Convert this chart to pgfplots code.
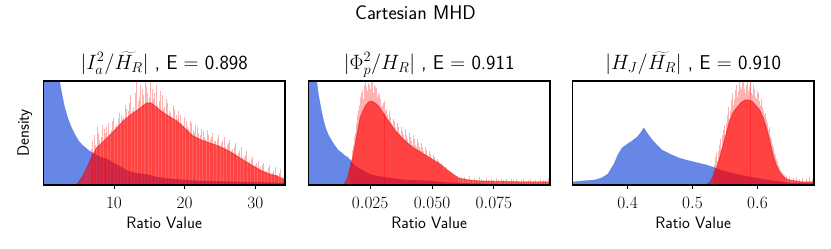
\documentclass[border=0pt]{standalone}
\usepackage{pgfplots}
\pgfplotsset{compat=1.18}
\definecolor{bluecol}{RGB}{65,105,225}
\definecolor{redcol}{RGB}{255,0,0}
\newcommand{\lblfont}{\fontsize{16.5}{19}\selectfont}
\newcommand{\ttlfont}{\fontsize{20}{22}\selectfont}
\pgfplotsset{
  panel/.style={
    anchor=south west, scale only axis, width=241.7pt, height=104pt,
    ymin=0, ymax=104, ytick=\empty, scaled x ticks=false,
    tick align=outside, xtick pos=lower, major tick length=4.5pt,
    axis line style={line width=1.1pt, black},
    every tick/.style={black, line width=0.9pt},
    tick label style={font=\lblfont},
    xticklabel style={yshift=-4pt},
    label style={font=\lblfont\sffamily},
    xlabel style={at={(axis description cs:0.5,0)}, anchor=base, yshift=-43.3pt},
    every axis title/.style={at={(axis description cs:0.5,1)}, anchor=base, yshift=11.7pt, font=\ttlfont\sffamily},
    axis on top,
  },
  bluefill/.style={fill=bluecol, fill opacity=0.8, draw=bluecol, draw opacity=0.5, line width=0.6pt},
  redfill/.style={fill=redcol, fill opacity=0.63, draw=redcol!80!black, draw opacity=0.35, line width=1pt},
  spikes/.style={ycomb, draw=redcol, draw opacity=0.3, line width=1pt, mark=none},
}
\begin{document}
\begin{tikzpicture}[x=1pt,y=1pt]
\useasboundingbox (0,0) rectangle (831,249);
\node[anchor=base, font={\fontsize{19.8}{22}\selectfont\sffamily}] at (415.5,229.7) {Cartesian MHD};

% ---------------- Panel 1 ----------------
\begin{axis}[panel, at={(43.3pt,64pt)}, xmin=0, xmax=34.2, xtick={10,20,30},
  xlabel={Ratio Value}, ylabel={Density},
  ylabel style={at={(axis description cs:-0.06,0.5)}, anchor=base},
  title={$|I_a^2/\widetilde{H_R}|$ , E $=$ 0.898}]
\addplot[bluefill] coordinates {
(0,300) (1,200) (1.8,130) (2.3,104) (2.6,92) (3.0,78) (3.5,66) (4.0,57) (4.5,50) (5.0,44)
(5.5,40) (6.0,37) (6.5,34) (7.0,32) (7.5,30) (8,28) (9,26) (10,22) (11,18) (12,14)
(13,12) (14,11) (15,10) (16,8) (17,7) (18,6) (20,5) (22,4) (25,3.5) (28,3) (31,2.5) (34.2,2)
} \closedcycle;
\addplot[spikes] coordinates {
(6.8,36) (7.2,50) (7.6,58) (8.0,45) (8.4,60) (8.8,52) (9.2,62) (9.6,55) (10.0,68) (10.4,60) (10.8,72)
(11.2,66) (11.6,80) (12.0,74) (12.4,90) (12.8,78) (13.2,104) (13.6,88) (14.0,96) (14.4,104) (14.8,92)
(15.2,104) (15.6,86) (16.0,100) (16.4,84) (16.8,90) (17.2,78) (17.6,82) (18.0,72) (18.4,80) (18.8,70)
(19.2,74) (19.6,62) (20.0,68) (20.4,58) (20.8,64) (21.2,55) (21.6,60) (22.0,52) (22.4,56) (22.8,48)
(23.2,55) (23.6,46) (24.0,52) (24.4,44) (24.8,50) (25.2,42) (25.6,48) (26.0,40) (26.4,45) (26.8,36)
(27.2,42) (27.6,32) (28.0,38) (28.4,28) (28.8,34) (29.2,24) (29.6,28) (30.0,20) (30.4,24) (30.8,18)
(31.2,22) (31.6,14) (32.0,20) (32.4,12) (32.8,18) (33.2,10) (33.6,16) (34.0,8)
};
\addplot[spikes] coordinates {
(7.0,44) (7.4,40) (7.8,52) (8.2,48) (8.6,56) (9.0,58) (9.4,50) (9.8,64) (10.2,58) (10.6,66)
(11.0,70) (11.4,68) (11.8,76) (12.2,82) (12.6,74) (13.0,92) (13.4,84) (13.8,100) (14.2,90) (14.6,98)
(15.0,88) (15.4,96) (15.8,92) (16.2,80) (16.6,94) (17.0,76) (17.4,86) (17.8,74) (18.2,68) (18.6,76)
(19.0,66) (19.4,70) (19.8,60) (20.2,64) (20.6,56) (21.0,62) (21.4,52) (21.8,58) (22.2,50) (22.6,54)
(23.0,46) (23.4,50) (23.8,48) (24.2,44) (24.6,46) (25.0,40) (25.4,44) (25.8,38) (26.2,42) (26.6,34)
(27.0,38) (27.4,30) (27.8,34) (28.2,27) (28.6,30) (29.0,22) (29.4,26) (29.8,19) (30.2,22) (30.6,16)
(31.0,20) (31.4,13) (31.8,17) (32.2,11) (32.6,14) (33.0,10) (33.4,12) (33.8,7)
};
\addplot[redfill] coordinates {
(4.7,0) (5.2,5) (5.6,9) (6.0,15) (6.6,24) (7.5,37) (9.0,47) (10,54) (11.3,64) (12.5,71)
(13.7,77) (14.6,82) (15.3,82) (16.5,75) (17.5,70) (18.9,64) (20,57) (21.2,49) (22.4,45) (23.6,42)
(24.8,39) (26,35) (27,31) (28.3,25) (29.5,20) (30.7,15) (32,11) (33.1,9) (34.2,5)
} \closedcycle;
\end{axis}

% ---------------- Panel 2 ----------------
\begin{axis}[panel, at={(308.3pt,64pt)}, xmin=0, xmax=0.0977, xtick={0.025,0.05,0.075},
  xticklabels={$0.025$,$0.050$,$0.075$},
  xlabel={Ratio Value},
  title={$|\Phi_p^2/H_R|$ , E $=$ 0.911}]
\addplot[bluefill] coordinates {
(0.0,300) (0.002,150) (0.0034,104) (0.004,92) (0.0047,82) (0.0054,73) (0.0061,65) (0.007,57) (0.0081,50) (0.0095,44)
(0.0108,39) (0.012,35) (0.0135,32) (0.015,29) (0.0162,27) (0.0175,23) (0.0189,19) (0.021,16) (0.023,13) (0.0257,10)
(0.029,8.5) (0.0324,7) (0.0392,5) (0.049,4) (0.055,2.5) (0.06,1.8) (0.07,1.2) (0.08,0.8) (0.0977,0.5)
} \closedcycle;
\addplot[spikes] coordinates {
(0.0170,22) (0.0178,35) (0.0186,48) (0.0194,62) (0.0202,75) (0.0210,88) (0.0218,95) (0.0226,100) (0.0234,98) (0.0242,102)
(0.0250,96) (0.0258,104) (0.0266,100) (0.0274,97) (0.0282,92) (0.0290,86) (0.0298,80) (0.0306,84) (0.0314,74) (0.0322,70)
(0.0330,74) (0.0338,62) (0.0346,66) (0.0354,58) (0.0362,62) (0.0370,52) (0.0378,58) (0.0386,50) (0.0394,56) (0.0402,46)
(0.0410,52) (0.0418,44) (0.0426,50) (0.0434,40) (0.0442,46) (0.0450,38) (0.0458,42) (0.0466,34) (0.0474,38) (0.0482,30)
(0.0490,34) (0.0498,27) (0.0506,30) (0.0514,24) (0.0522,26) (0.0530,21) (0.0538,22) (0.0546,17) (0.0554,18) (0.0562,14)
(0.0570,14) (0.0578,11) (0.0586,10) (0.0594,8) (0.0602,9) (0.0610,7) (0.0620,6) (0.0630,8) (0.0640,6) (0.0650,9)
(0.0660,5) (0.0670,7) (0.0680,5) (0.0690,8) (0.0700,6) (0.0710,5) (0.0720,7) (0.0730,5) (0.0740,6) (0.0750,5)
(0.0760,7) (0.0770,5) (0.0780,6) (0.0790,5) (0.0800,6) (0.0810,4) (0.0820,6) (0.0830,5) (0.0840,6) (0.0850,4)
(0.0860,5) (0.0870,6) (0.0880,4) (0.0890,5) (0.0900,6) (0.0910,4) (0.0920,5) (0.0930,4) (0.0940,6) (0.0950,5)
(0.0960,4) (0.0970,7)
};
\addplot[spikes] coordinates {
(0.0174,26) (0.0182,40) (0.0190,52) (0.0198,70) (0.0206,80) (0.0214,92) (0.0222,86) (0.0230,104) (0.0238,94) (0.0246,100)
(0.0254,104) (0.0262,92) (0.0270,98) (0.0278,88) (0.0286,90) (0.0294,78) (0.0302,82) (0.0310,72) (0.0318,76) (0.0326,66)
(0.0334,68) (0.0342,60) (0.0350,64) (0.0358,54) (0.0366,58) (0.0374,50) (0.0382,54) (0.0390,46) (0.0398,50) (0.0406,42)
(0.0414,48) (0.0422,40) (0.0430,46) (0.0438,38) (0.0446,42) (0.0454,35) (0.0462,38) (0.0470,31) (0.0478,35) (0.0486,28)
(0.0494,31) (0.0502,25) (0.0510,28) (0.0518,22) (0.0526,24) (0.0534,19) (0.0542,20) (0.0550,15) (0.0558,16) (0.0566,12)
(0.0574,12) (0.0582,9) (0.0590,9) (0.0598,7)
};
\addplot[redfill] coordinates {
(0.0142,0) (0.0155,5) (0.0169,17) (0.018,28) (0.0189,40) (0.0199,54) (0.0209,67) (0.022,74) (0.023,79) (0.0243,83)
(0.0257,84) (0.027,82) (0.0284,79) (0.030,73) (0.0324,64) (0.035,55) (0.0375,48) (0.0392,44) (0.042,38) (0.046,32)
(0.0493,27) (0.0527,22) (0.0568,14) (0.0608,7) (0.0649,5) (0.07,4) (0.08,3.5) (0.09,3) (0.0977,3)
} \closedcycle;
\end{axis}

% ---------------- Panel 3 ----------------
\begin{axis}[panel, at={(572.3pt,64pt)}, xmin=0.315, xmax=0.687, xtick={0.4,0.5,0.6},
  xticklabels={$0.4$,$0.5$,$0.6$},
  xlabel={Ratio Value},
  title={$|H_J/\widetilde{H_R}|$ , E $=$ 0.910}]
\addplot[bluefill] coordinates {
(0.315,3) (0.33,4) (0.35,5) (0.36,7) (0.37,11) (0.38,22) (0.385,30) (0.3917,37) (0.40,41) (0.407,44)
(0.415,48) (0.42,52) (0.425,57) (0.43,52) (0.438,45) (0.445,40) (0.453,35) (0.465,31) (0.479,27) (0.49,25)
(0.502,23) (0.5215,20) (0.535,17) (0.547,14) (0.56,12) (0.573,10) (0.585,8.5) (0.598,7) (0.61,5.5) (0.624,4)
(0.65,2) (0.687,1.5)
} \closedcycle;
\addplot[spikes] coordinates {
(0.532,15) (0.536,28) (0.539,24) (0.542,40) (0.545,36) (0.548,55) (0.551,50) (0.554,70) (0.557,66) (0.560,85)
(0.563,80) (0.566,95) (0.569,88) (0.572,104) (0.575,96) (0.578,104) (0.581,92) (0.584,104) (0.587,98) (0.590,104)
(0.593,90) (0.596,96) (0.599,86) (0.602,92) (0.605,80) (0.608,78) (0.611,70) (0.614,66) (0.617,55) (0.620,48)
(0.623,40) (0.626,32) (0.629,26) (0.632,20) (0.635,15) (0.638,12) (0.641,10) (0.645,9) (0.650,8) (0.655,7)
(0.660,8) (0.665,6) (0.670,7) (0.675,6) (0.680,8) (0.685,6)
};
\addplot[spikes] coordinates {
(0.5335,20) (0.5375,32) (0.5405,34) (0.5435,46) (0.5465,50) (0.5495,60) (0.5525,62) (0.5555,78) (0.5585,74) (0.5615,92)
(0.5645,86) (0.5675,100) (0.5705,94) (0.5735,98) (0.5765,104) (0.5795,96) (0.5825,100) (0.5855,94) (0.5885,104) (0.5915,92)
(0.5945,100) (0.5975,88) (0.6005,94) (0.6035,84) (0.6065,86) (0.6095,74) (0.6125,72) (0.6155,62) (0.6185,58) (0.6215,46)
(0.6245,38) (0.6275,30) (0.6305,24) (0.6335,18) (0.6365,14) (0.6395,11)
};
\addplot[redfill] coordinates {
(0.52,0) (0.527,3) (0.532,9) (0.537,17) (0.542,28) (0.547,40) (0.552,52) (0.557,64) (0.562,72) (0.5677,77)
(0.574,82) (0.5805,85) (0.586,85) (0.591,84) (0.597,80) (0.6035,75) (0.609,67) (0.614,57) (0.618,47) (0.6215,37)
(0.625,28) (0.629,20) (0.634,13) (0.639,9) (0.645,6) (0.65,5) (0.66,4) (0.67,3) (0.687,3)
} \closedcycle;
\end{axis}
\end{tikzpicture}
\end{document}
